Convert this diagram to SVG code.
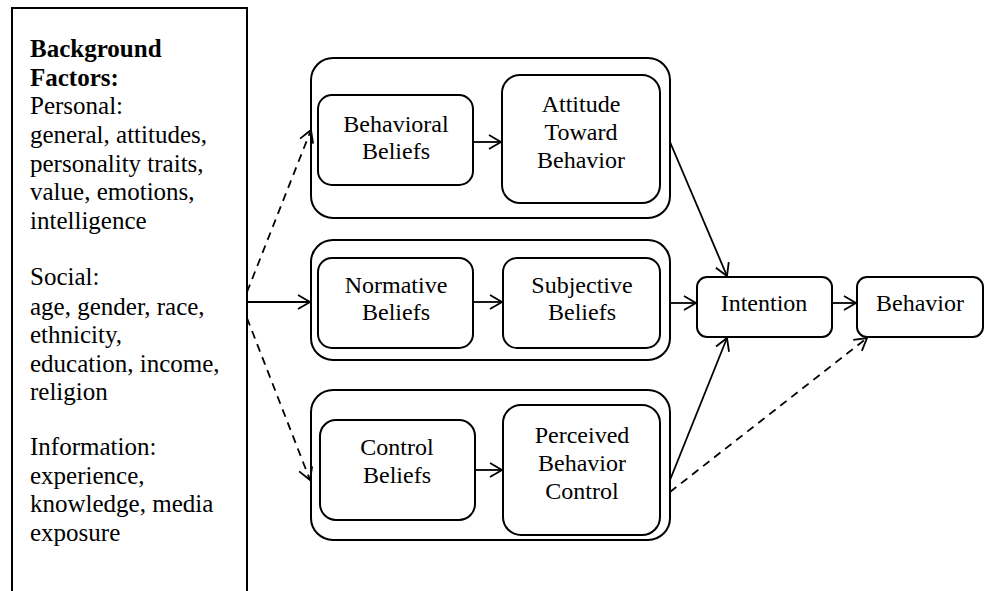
<svg xmlns="http://www.w3.org/2000/svg" width="987" height="591" viewBox="0 0 987 591">
<style>
.box{fill:#fff;stroke:#000;stroke-width:2}
.t{font-family:'Liberation Serif','DejaVu Serif',serif;font-size:24px;fill:#000;text-anchor:middle}
.lt{font-family:'Liberation Serif','DejaVu Serif',serif;font-size:25px;fill:#000}
.c{fill:none;stroke:#000;stroke-width:1.8}
.d{stroke-dasharray:8 6}
</style>
<defs>
<marker id="a" markerUnits="userSpaceOnUse" markerWidth="20" markerHeight="20" viewBox="-14 -10 16 20" refX="0" refY="0" orient="auto">
<path d="M-12,-7 L0,0 L-12,7" fill="none" stroke="#000" stroke-width="1.8"/>
</marker>
</defs>
<rect width="987" height="591" fill="#fff"/>
<g id="background">
<path d="M12,600 V8 H247 V600" fill="none" stroke="#000" stroke-width="2"/>
<text class="lt" x="30" y="57" font-weight="bold">Background</text>
<text class="lt" x="30" y="86" font-weight="bold">Factors:</text>
<text class="lt" x="30" y="114">Personal:</text>
<text class="lt" x="30" y="143">general, attitudes,</text>
<text class="lt" x="30" y="172">personality traits,</text>
<text class="lt" x="30" y="200">value, emotions,</text>
<text class="lt" x="30" y="229">intelligence</text>
<text class="lt" x="30" y="285">Social:</text>
<text class="lt" x="30" y="315">age, gender, race,</text>
<text class="lt" x="30" y="343">ethnicity,</text>
<text class="lt" x="30" y="372">education, income,</text>
<text class="lt" x="30" y="400">religion</text>
<text class="lt" x="30" y="455">Information:</text>
<text class="lt" x="30" y="484">experience,</text>
<text class="lt" x="30" y="512">knowledge, media</text>
<text class="lt" x="30" y="541">exposure</text>
</g>
<g id="group-attitude">
<rect class="box" x="311" y="58" width="359" height="160" rx="22"/>
</g>
<g id="group-norm">
<rect class="box" x="311" y="240" width="359" height="120" rx="22"/>
</g>
<g id="group-control">
<rect class="box" x="311" y="390" width="359" height="150" rx="22"/>
</g>
<g id="behavioral-beliefs">
<rect class="box" x="318" y="95" width="155" height="90" rx="14"/>
<text class="t" x="396" y="132">Behavioral</text>
<text class="t" x="396" y="159">Beliefs</text>
</g>
<g id="attitude">
<rect class="box" x="502" y="75" width="158" height="128" rx="18"/>
<text class="t" x="581" y="112">Attitude</text>
<text class="t" x="581" y="140">Toward</text>
<text class="t" x="581" y="168">Behavior</text>
</g>
<g id="normative-beliefs">
<rect class="box" x="318" y="258" width="155" height="90" rx="14"/>
<text class="t" x="396" y="293">Normative</text>
<text class="t" x="396" y="320">Beliefs</text>
</g>
<g id="subjective-beliefs">
<rect class="box" x="503" y="258" width="157" height="90" rx="14"/>
<text class="t" x="582" y="293">Subjective</text>
<text class="t" x="582" y="320">Beliefs</text>
</g>
<g id="control-beliefs">
<rect class="box" x="320" y="420" width="155" height="100" rx="16"/>
<text class="t" x="397" y="455">Control</text>
<text class="t" x="397" y="483">Beliefs</text>
</g>
<g id="perceived-control">
<rect class="box" x="503" y="405" width="157" height="130" rx="18"/>
<text class="t" x="582" y="443">Perceived</text>
<text class="t" x="582" y="471">Behavior</text>
<text class="t" x="582" y="499">Control</text>
</g>
<g id="intention">
<rect class="box" x="697" y="277" width="135" height="60" rx="10"/>
<text class="t" x="764" y="311">Intention</text>
</g>
<g id="behavior">
<rect class="box" x="857" y="277" width="126" height="60" rx="10"/>
<text class="t" x="920" y="311">Behavior</text>
</g>
<g id="connectors">
<line class="c" x1="247" y1="302" x2="310" y2="302" marker-end="url(#a)"/>
<line class="c d" x1="247" y1="292" x2="311" y2="130" marker-end="url(#a)"/>
<line class="c d" x1="247" y1="318" x2="310" y2="480" marker-end="url(#a)"/>
<line class="c" x1="473" y1="142" x2="501" y2="142" marker-end="url(#a)"/>
<line class="c" x1="473" y1="302" x2="502" y2="302" marker-end="url(#a)"/>
<line class="c" x1="475" y1="470" x2="502" y2="470" marker-end="url(#a)"/>
<line class="c" x1="670" y1="142" x2="727" y2="276" marker-end="url(#a)"/>
<line class="c" x1="670" y1="303" x2="696" y2="303" marker-end="url(#a)"/>
<line class="c" x1="670" y1="480" x2="727" y2="338" marker-end="url(#a)"/>
<line class="c d" x1="670" y1="492" x2="867" y2="338" marker-end="url(#a)"/>
<line class="c" x1="832" y1="303" x2="856" y2="303" marker-end="url(#a)"/>
</g>
</svg>
